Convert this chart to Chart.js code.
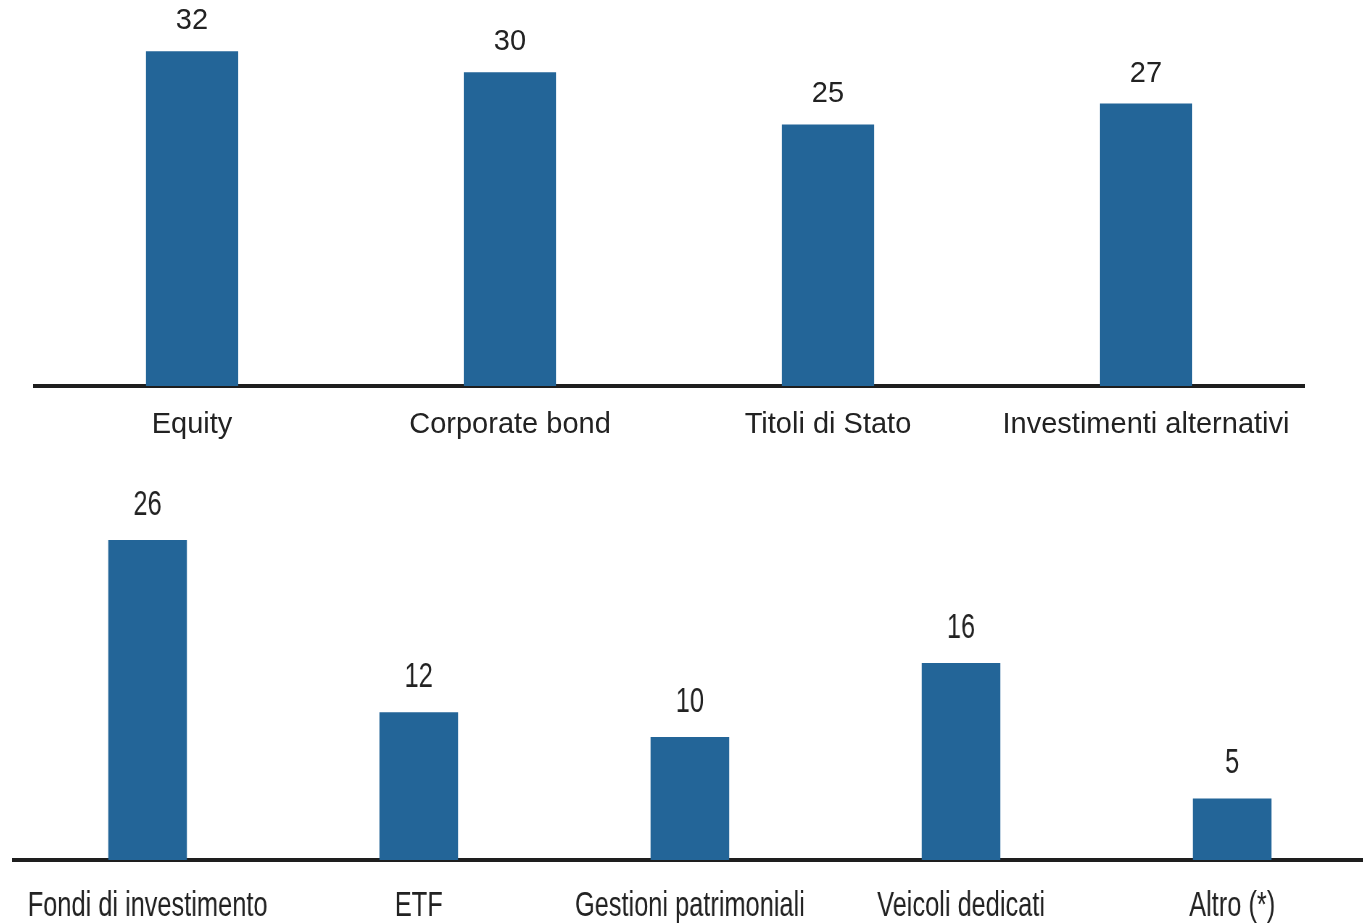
<!DOCTYPE html>
<html>
<head>
<meta charset="utf-8">
<script src="https://cdn.jsdelivr.net/npm/chart.js@4.4.1/dist/chart.umd.min.js"></script>
<style>
  html, body { margin: 0; padding: 0; background: #fff; overflow: hidden; }
  body { width: 1363px; height: 923px; position: relative; }
  .box { position: absolute; }
  #top { left: 33px; top: 0px; width: 1272px; height: 446px; }
  /* grafico inferiore in carattere "condensato": disegnato largo e poi stretto */
  #bottom { left: 12px; top: 460px; width: 1870px; height: 463px; transform: scaleX(0.725); transform-origin: 0 0; }
</style>
</head>
<body>
<div class="box" id="top"><canvas id="chartTop"></canvas></div>
<div class="box" id="bottom"><canvas id="chartBottom"></canvas></div>
<script>
// Dati grafico superiore (asset class)
const categorieTop = ["Equity", "Corporate bond", "Titoli di Stato", "Investimenti alternativi"];
const valoriTop = [32, 30, 25, 27];

// Dati grafico inferiore (strumenti)
const categorieBottom = ["Fondi di investimento", "ETF", "Gestioni patrimoniali", "Veicoli dedicati", "Altro (*)"];
const valoriBottom = [26, 12, 10, 16, 5];

const blu = "#236598";
const font = "'Liberation Sans', Arial, sans-serif";

// Plugin per le etichette sopra le barre
function etichetteValori(size, offset) {
  return {
    id: "etichette",
    afterDatasetsDraw(chart) {
      const ctx = chart.ctx;
      const meta = chart.getDatasetMeta(0);
      ctx.save();
      ctx.fillStyle = "#222";
      ctx.font = size + "px " + font;
      ctx.textAlign = "center";
      ctx.textBaseline = "middle";
      meta.data.forEach((bar, i) => {
        ctx.fillText(chart.data.datasets[0].data[i], bar.x, bar.y - offset);
      });
      ctx.restore();
    }
  };
}

function opzioni(size, yMax, asseH, pad) {
  return {
    responsive: true,
    maintainAspectRatio: false,
    animation: false,
    layout: { padding: 0 },
    plugins: { legend: { display: false }, tooltip: { enabled: false } },
    scales: {
      x: {
        grid: { display: false, drawTicks: false },
        border: { display: true, color: "#1e1e1e", width: 4 },
        ticks: { color: "#222", font: { family: font, size: size }, padding: pad, maxRotation: 0, autoSkip: false },
        afterFit: (scale) => {
          scale.height = asseH;
          scale.paddingLeft = 0;
          scale.paddingRight = 0;
        }
      },
      y: { display: false, min: 0, max: yMax }
    }
  };
}

new Chart(document.getElementById("chartTop"), {
  type: "bar",
  data: {
    labels: categorieTop,
    datasets: [{ data: valoriTop, backgroundColor: blu, categoryPercentage: 1, barPercentage: 0.29 }]
  },
  options: opzioni(29, 36.9, 60, 22),
  plugins: [etichetteValori(29, 30)]
});

new Chart(document.getElementById("chartBottom"), {
  type: "bar",
  data: {
    labels: categorieBottom,
    datasets: [{ data: valoriBottom, backgroundColor: blu, categoryPercentage: 1, barPercentage: 0.29 }]
  },
  options: opzioni(35, 32.5, 63, 25),
  plugins: [etichetteValori(35, 35)]
});
</script>
</body>
</html>
